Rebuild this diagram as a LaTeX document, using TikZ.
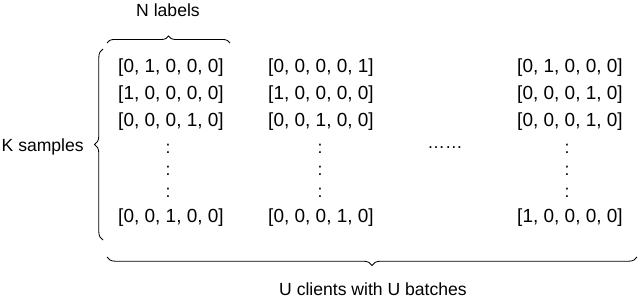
\documentclass[tikz,border=0pt]{standalone}
\usepackage{fontspec}
\setmainfont{Liberation Sans}
\usetikzlibrary{decorations.pathreplacing}
\tikzset{
  vec/.style={font=\fontsize{13.5}{16}\selectfont, inner sep=0pt},
  lbl/.style={font=\fontsize{12.5}{15}\selectfont, inner sep=0pt},
  brc/.style={decorate, decoration={brace, amplitude=#1}, line width=0.6pt},
}

\begin{document}
\begin{tikzpicture}[x=0.025cm, y=-0.025cm]
    \useasboundingbox (0,0) rectangle (640,297);
    % labels
    \node[lbl] (nlab) at (168,10) {N labels};
    \node[lbl, anchor=east] (klab) at (84,147) {K samples};
    \node[lbl] (ulab) at (373,289) {U clients with U batches};
    % braces
    \draw[brc=5pt] (107,43) -- (230,43);
    \draw[brc=6pt] (103,240) -- (103,49);
    \draw[brc=6pt] (637,257) -- (107,257);
    % first client
    \node[vec] (a1) at (171,68) {[0, 1, 0, 0, 0]};
    \node[vec] (a2) at (171,95) {[1, 0, 0, 0, 0]};
    \node[vec] (a3) at (171,122) {[0, 0, 0, 1, 0]};
    \node[vec] (ak) at (171,218) {[0, 0, 1, 0, 0]};
    % second client
    \node[vec] (b1) at (321,68) {[0, 0, 0, 0, 1]};
    \node[vec] (b2) at (321,95) {[1, 0, 0, 0, 0]};
    \node[vec] (b3) at (321,122) {[0, 0, 1, 0, 0]};
    \node[vec] (bk) at (321,218) {[0, 0, 0, 1, 0]};
    % last client
    \node[vec] (u1) at (570,68) {[0, 1, 0, 0, 0]};
    \node[vec] (u2) at (570,95) {[0, 0, 0, 1, 0]};
    \node[vec] (u3) at (570,122) {[0, 0, 0, 1, 0]};
    \node[vec] (uk) at (570,218) {[1, 0, 0, 0, 0]};
    % vertical dots
    \foreach \cx/\nm in {168/a, 320/b, 567/u}
        \foreach \cy [count=\i] in {149,171,193}
            \node[lbl] (\nm dot\i) at (\cx,\cy) {:};
    \node[lbl] (hdots) at (445,148) {……};
\end{tikzpicture}
\end{document}
